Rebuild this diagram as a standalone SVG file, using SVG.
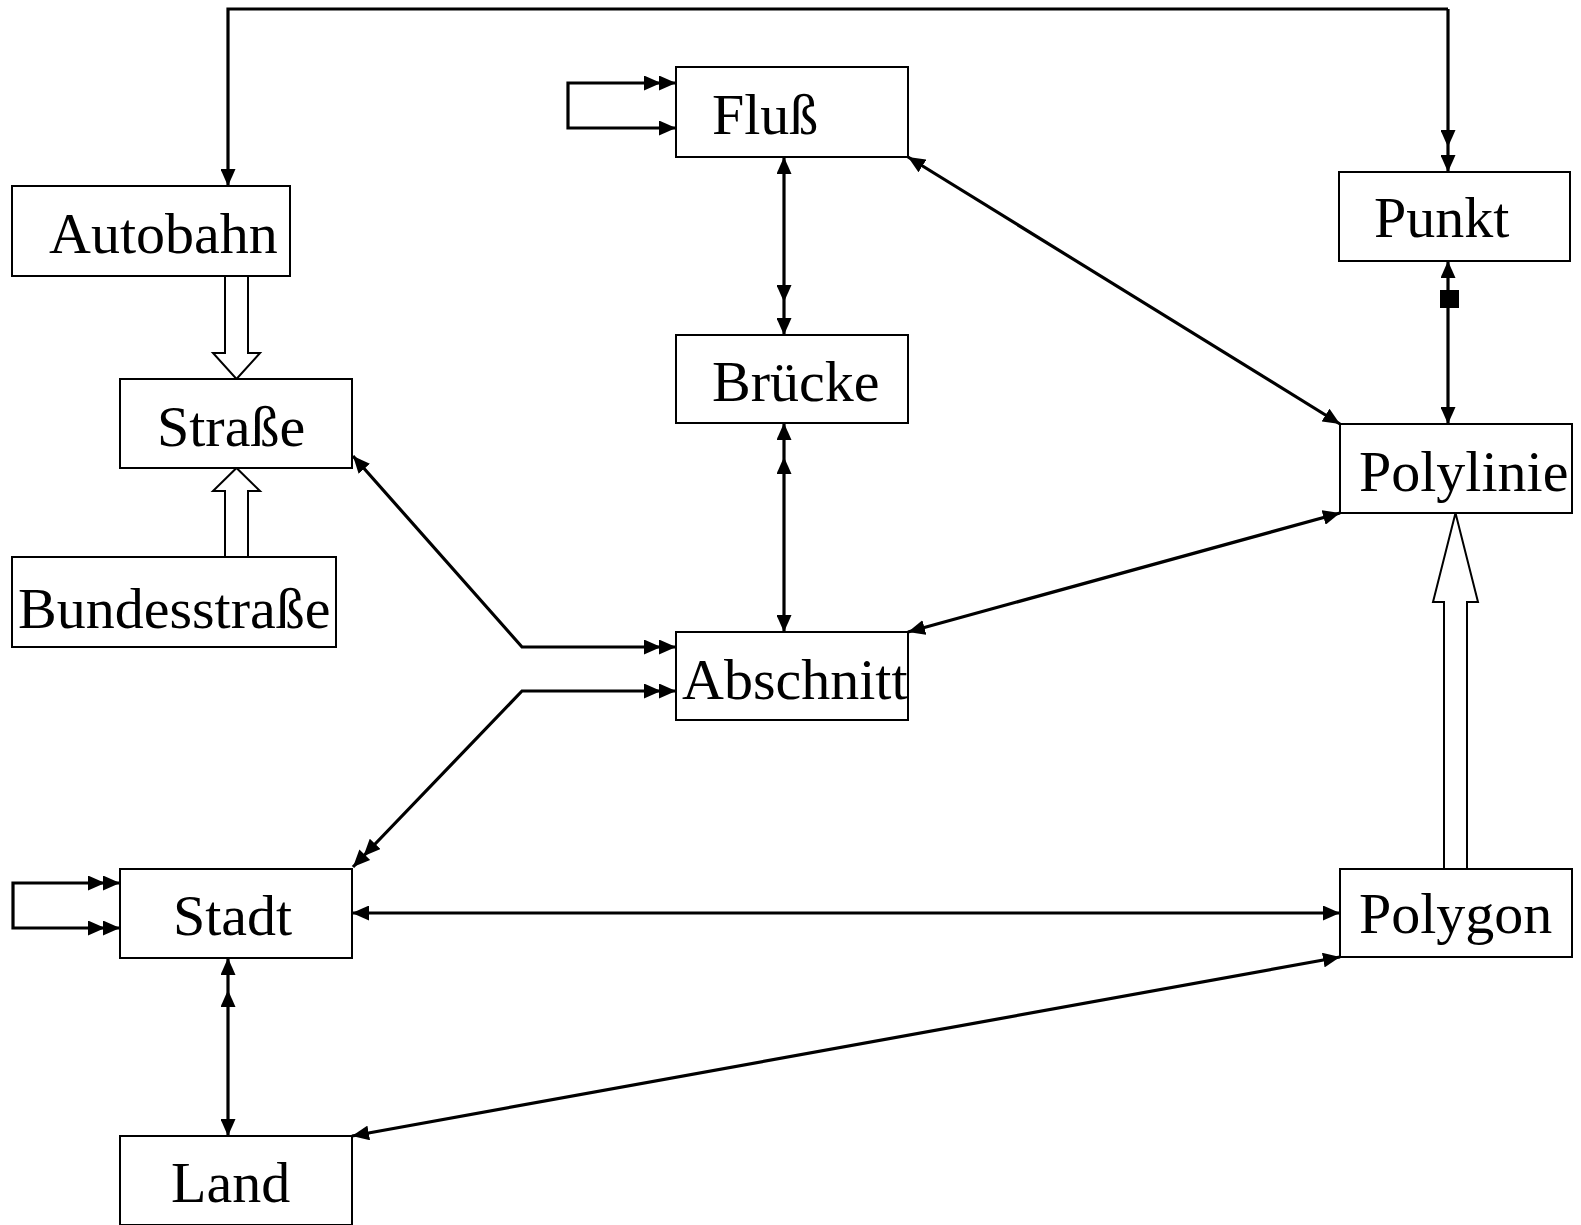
<svg xmlns="http://www.w3.org/2000/svg" width="1581" height="1225" viewBox="0 0 1581 1225">
<style>
.box{fill:#fff;stroke:#000;stroke-width:2}
.lbl{font-family:"Liberation Serif","Times New Roman",serif;font-size:58px;fill:#000}
.c{fill:none;stroke:#000;stroke-width:3.2}
.h{fill:#fff;stroke:#000;stroke-width:2}
</style>
<defs>
<marker id="a" viewBox="0 0 17 15" refX="17" refY="7.5" markerWidth="17" markerHeight="15" markerUnits="userSpaceOnUse" orient="auto-start-reverse"><path d="M0,0 L17,7.5 L0,15 z" fill="#000"/></marker>
<marker id="a2" viewBox="0 0 32 15" refX="32" refY="7.5" markerWidth="32" markerHeight="15" markerUnits="userSpaceOnUse" orient="auto-start-reverse"><path d="M0,0 L17,7.5 L0,15 z M15,0 L32,7.5 L15,15 z" fill="#000"/></marker>
</defs>
<rect width="1581" height="1225" fill="#fff"/>
<g id="connectors">
<path class="c" d="M1448 9 H228 V186" marker-end="url(#a)"/>
<path class="c" d="M1448 9 V147 V172" marker-mid="url(#a)" marker-end="url(#a)"/>
<path class="c" d="M676 128 H568 V83 H676" marker-start="url(#a)" marker-end="url(#a2)"/>
<path class="c" d="M784 157 V302 V335" marker-start="url(#a)" marker-mid="url(#a)" marker-end="url(#a)"/>
<path class="c" d="M784 632 V457 V423" marker-start="url(#a)" marker-mid="url(#a)" marker-end="url(#a)"/>
<path class="c" d="M908 157 L1340 424" marker-start="url(#a)" marker-end="url(#a)"/>
<path class="c" d="M1448 261 V424" marker-start="url(#a)" marker-end="url(#a)"/>
<rect x="1440" y="290" width="19" height="18" fill="#000"/>
<path class="c" d="M353 456 L522 647 H676" marker-start="url(#a)" marker-end="url(#a2)"/>
<path class="c" d="M676 691 H522 L353 867" marker-start="url(#a2)" marker-end="url(#a2)"/>
<path class="c" d="M1340 513 L908 632" marker-start="url(#a)" marker-end="url(#a)"/>
<path class="c" d="M352 913 H1340" marker-start="url(#a)" marker-end="url(#a)"/>
<path class="c" d="M120 928 H13 V883 H120" marker-start="url(#a2)" marker-end="url(#a2)"/>
<path class="c" d="M228 1136 V990 V958" marker-start="url(#a)" marker-mid="url(#a)" marker-end="url(#a)"/>
<path class="c" d="M1340 957 L352 1136" marker-start="url(#a)" marker-end="url(#a)"/>
<path class="h" d="M225 276 V353 H213 L236.5 379 L260 353 H248 V276"/>
<path class="h" d="M225 557 V491 H213 L236.5 468 L260 491 H248 V557"/>
<path class="h" d="M1444 869 V602 H1433 L1455.5 513 L1478 602 H1467 V869"/>
</g>
<g id="autobahn"><rect class="box" x="12" y="186" width="278" height="90"/><text class="lbl" x="49" y="253">Autobahn</text></g>
<g id="strasse"><rect class="box" x="120" y="379" width="232" height="89"/><text class="lbl" x="157" y="446">Straße</text></g>
<g id="bundesstrasse"><rect class="box" x="12" y="557" width="324" height="90"/><text class="lbl" x="18" y="628">Bundesstraße</text></g>
<g id="fluss"><rect class="box" x="676" y="67" width="232" height="90"/><text class="lbl" x="712" y="134">Fluß</text></g>
<g id="bruecke"><rect class="box" x="676" y="335" width="232" height="88"/><text class="lbl" x="712" y="401">Brücke</text></g>
<g id="abschnitt"><rect class="box" x="676" y="632" width="232" height="88"/><text class="lbl" x="682" y="699">Abschnitt</text></g>
<g id="punkt"><rect class="box" x="1339" y="172" width="231" height="89"/><text class="lbl" x="1374" y="237">Punkt</text></g>
<g id="polylinie"><rect class="box" x="1340" y="424" width="232" height="89"/><text class="lbl" x="1359" y="491">Polylinie</text></g>
<g id="stadt"><rect class="box" x="120" y="869" width="232" height="89"/><text class="lbl" x="173" y="935">Stadt</text></g>
<g id="polygon"><rect class="box" x="1340" y="869" width="232" height="88"/><text class="lbl" x="1359" y="933">Polygon</text></g>
<g id="land"><rect class="box" x="120" y="1136" width="232" height="89"/><text class="lbl" x="171" y="1202">Land</text></g>
</svg>
